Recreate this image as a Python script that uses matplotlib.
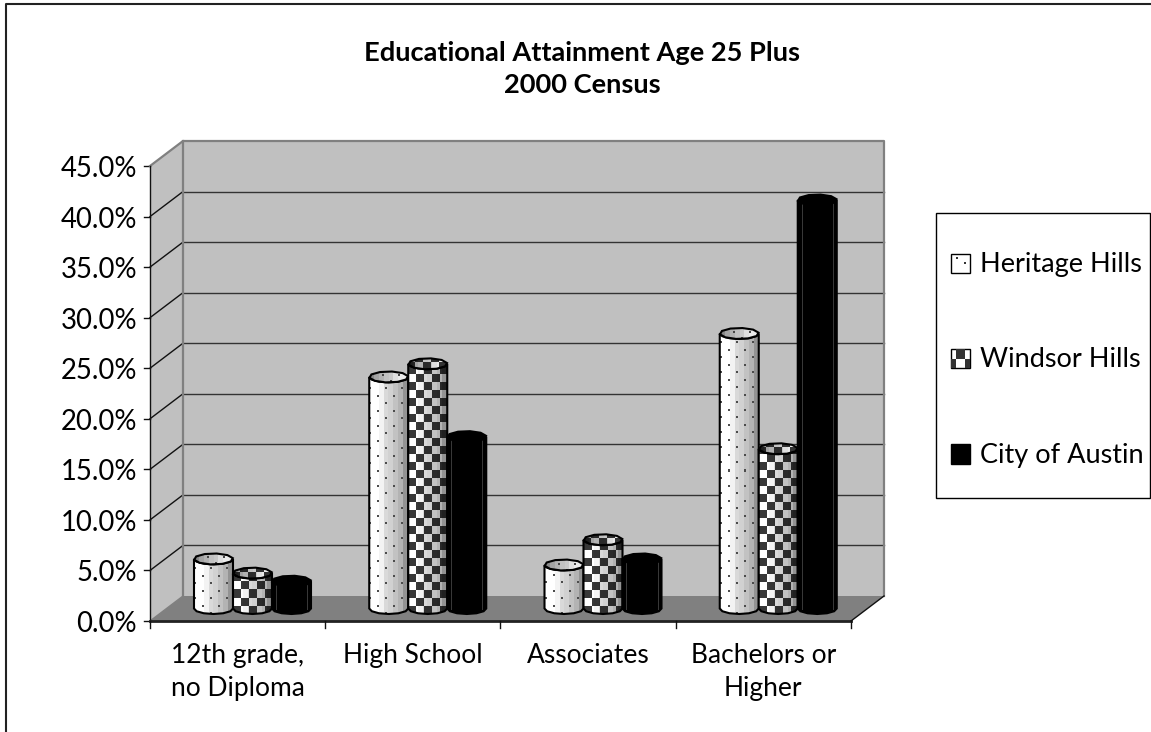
import numpy as np
import matplotlib
matplotlib.use("Agg")
import matplotlib.pyplot as plt
from matplotlib.patches import Polygon, Rectangle
from matplotlib.legend_handler import HandlerBase

categories = ["12th grade,\nno Diploma", "High School", "Associates", "Bachelors or\nHigher"]
series_names = ["Heritage Hills", "Windsor Hills", "City of Austin"]
heritage = [4.9, 22.9, 4.3, 27.2]
windsor = [3.5, 24.2, 6.8, 15.8]
austin = [2.7, 17.0, 4.9, 40.4]
y_ticks = [0, 5, 10, 15, 20, 25, 30, 35, 40, 45]

W, H = 1151, 732
plt.rcParams["font.family"] = ["Lato", "DejaVu Sans"]
fig = plt.figure(figsize=(W / 100, H / 100), dpi=100, facecolor="white")

# front plane of the fake 3d box, everything else hangs off this axes
L, R, B, T = 150, 851, 621, 166
ax = fig.add_axes([L / W, 1 - B / H, (R - L) / W, (B - T) / H])
ax.set_xlim(0, 4)
ax.set_ylim(0, 45)
ax.axis("off")

px_x = 4 / (R - L)
px_y = 45 / (B - T)
dx = 33 * px_x
dy = 25 * px_y

ax.add_patch(Polygon([(0, 0), (dx, dy), (dx, 45 + dy), (0, 45)], fc="#c0c0c0", ec="none", clip_on=False, zorder=1))
ax.add_patch(Rectangle((dx, dy), 4, 45, fc="#c0c0c0", ec="none", clip_on=False, zorder=1))
ax.add_patch(Polygon([(0, 0), (4, 0), (4 + dx, dy), (dx, dy)], fc="#808080", ec="none", clip_on=False, zorder=1))

for t in y_ticks:
    ax.plot([-6 * px_x, 0], [t, t], color="#111111", lw=1, clip_on=False, zorder=2)
    if 0 < t < 45:
        ax.plot([0, dx], [t, t + dy], color="#111111", lw=1, clip_on=False, zorder=2)
        ax.plot([dx, 4 + dx], [t + dy, t + dy], color="#333333", lw=1, clip_on=False, zorder=2)
    ax.text(-13 * px_x, t - 3 * px_y, "%.1f%%" % t, ha="right", va="center", fontsize=19.8, color="black", clip_on=False)

# grey box edges, black front axes
ax.plot([0, dx, 4 + dx, 4 + dx], [45, 45 + dy, 45 + dy, dy], color="#808080", lw=1.6, clip_on=False, zorder=2)
ax.plot([dx, dx], [dy, 45 + dy], color="#808080", lw=1.6, clip_on=False, zorder=2)
ax.plot([0, dx], [0, dy], color="#808080", lw=1, clip_on=False, zorder=2)
ax.plot([0, 0], [0, 45], color="#111111", lw=1, clip_on=False, zorder=2)
ax.plot([0, 4], [0, 0], color="#222222", lw=2, clip_on=False, zorder=2)
ax.plot([4, 4 + dx], [0, dy], color="#111111", lw=1, clip_on=False, zorder=2)
for i in range(5):
    ax.plot([i, i], [0, -7 * px_y], color="#111111", lw=1, clip_on=False, zorder=2)
for i, c in enumerate(categories):
    ax.text(i + 0.5, -22 * px_y, c, ha="center", va="top", fontsize=19, linespacing=1.4, clip_on=False)


def shading(n):
    # stepped vertical bands, bright on the left, dark to the right
    u = (np.arange(n) + 0.5) / n
    return np.array([1, 1, 0.95, 0.85, 0.82, 0.76, 0.7, 0.58])[(u * 8).astype(int)]


def texture(kind, h, w):
    img = np.tile(shading(w), (h, 1))
    yy, xx = np.mgrid[0:h, 0:w]
    if kind == 0:
        dots = ((yy % 15 < 2) & (xx % 16 < 2)) | (((yy + 8) % 15 < 2) & ((xx + 8) % 16 < 2))
        img[dots] = 0.3
    else:
        chk = ((yy // 8) + (xx // 8)) % 2 == 0
        img[chk] = img[chk] * 0.22
    return np.flipud(img)


def ring(cx, cy, rx, ry, n=10):
    a = np.linspace(0, 2 * np.pi, n, endpoint=False) + 0.15
    return np.column_stack([cx + rx * np.cos(a), cy + ry * np.sin(a)])


bar_w = 39 * px_x
gap = 44 * px_x
ry = 5.5 * px_y
all_vals = [heritage, windsor, austin]
for s, vals in enumerate(all_vals):
    for i, v in enumerate(vals):
        cx = i + gap + s * bar_w + bar_w / 2
        base = dy / 2
        top = v + dy / 2
        rx = bar_w / 2
        a = np.linspace(np.pi, 2 * np.pi, 7)
        lower = np.column_stack([cx + rx * np.cos(a), base + ry * np.sin(a)])
        upper = np.column_stack([cx + rx * np.cos(a[::-1]), top + ry * np.sin(a[::-1])])
        outline = np.vstack([lower, upper])
        rim = ring(cx, top, rx, ry)
        z = 5 + s
        if s < 2:
            hpx = int(round((top - base + 2 * ry) / px_y))
            wpx = int(round(bar_w / px_x))
            im = ax.imshow(texture(s, hpx, wpx), cmap="gray", vmin=0, vmax=1, aspect="auto",
                           extent=[cx - rx, cx + rx, base - ry, top + ry], zorder=z, interpolation="nearest")
            im.set_clip_path(Polygon(outline, closed=True, transform=ax.transData))
            ax.add_patch(Polygon(outline, closed=True, fc="none", ec="black", lw=1.5, clip_on=False, zorder=z + 0.1))
            # rim shows the same pattern, shaded the other way round
            rim_im = ax.imshow(texture(s, 12, wpx)[:, ::-1] * 0.92, cmap="gray", vmin=0, vmax=1, aspect="auto",
                               extent=[cx - rx, cx + rx, top - ry, top + ry], zorder=z + 0.15, interpolation="nearest")
            rim_im.set_clip_path(Polygon(rim, closed=True, transform=ax.transData))
            ax.add_patch(Polygon(rim, closed=True, fc="none", ec="black", lw=1.5, clip_on=False, zorder=z + 0.2))
        else:
            ax.add_patch(Polygon(outline, closed=True, fc="black", ec="black", lw=1.5, clip_on=False, zorder=z))
            ax.add_patch(Polygon(rim, closed=True, fc="black", ec="black", lw=1.5, clip_on=False, zorder=z + 0.2))
            for off in (-0.8, 0.8):
                ax.plot([cx + off * rx, cx + off * rx], [base, top], color="#3a3a3a", lw=0.7, zorder=z + 0.1)
ax.set_xlim(0, 4)
ax.set_ylim(0, 45)

fig.text(582 / W, 1 - 69 / H, "Educational Attainment Age 25 Plus\n2000 Census", ha="center", va="center",
         fontsize=19.6, fontweight="bold", linespacing=1.38)


class SwatchHandler(HandlerBase):
    def create_artists(self, legend, orig, x0, y0, width, height, fontsize, trans):
        # legend units are points here, 13.7pt is the 19px swatch
        s = 13.7
        y0 = y0 - 0.5
        out = [Rectangle((x0, y0), s, s, fc=orig.get_facecolor(), ec="black", lw=1, transform=trans)]
        if orig.get_label() == series_names[1]:
            c = s / 4
            out.append(Rectangle((x0 + c, y0 + s / 2), 2 * c, s / 2, fc="#333333", ec="none", transform=trans))
            out.append(Rectangle((x0, y0), c, s / 2, fc="#333333", ec="none", transform=trans))
            out.append(Rectangle((x0 + 3 * c, y0), c, s / 2, fc="#333333", ec="none", transform=trans))
        if orig.get_label() == series_names[0]:
            out.append(Rectangle((x0 + 3.5, y0 + 9.5), 1.5, 1.5, fc="#333333", ec="none", transform=trans))
            out.append(Rectangle((x0 + 9.5, y0 + 6), 1.5, 1.5, fc="#333333", ec="none", transform=trans))
        return out


# legend box is taller than legend() would pad it, so the frame is separate
fig.add_artist(Rectangle((936 / W, 1 - 498 / H), 214 / W, 285 / H, fc="white", ec="black", lw=1, transform=fig.transFigure))
handles = [Rectangle((0, 0), 1, 1, fc=c, label=n) for c, n in zip(["white", "white", "black"], series_names)]
leg = fig.legend(handles=handles, loc="upper left", bbox_to_anchor=(951 / W, 1 - 252 / H),
                 bbox_transform=fig.transFigure, fontsize=19.5, frameon=False,
                 borderpad=0, labelspacing=2.6, handlelength=0.7,
                 handletextpad=0.37, borderaxespad=0, handler_map={Rectangle: SwatchHandler()})

# chart area border, left and top only survive the crop
fig.add_artist(plt.Line2D([6 / W, 6 / W, 1], [0, 1 - 4 / H, 1 - 4 / H], color="#222222", lw=1.5))

fig.savefig("out.png", dpi=100)
